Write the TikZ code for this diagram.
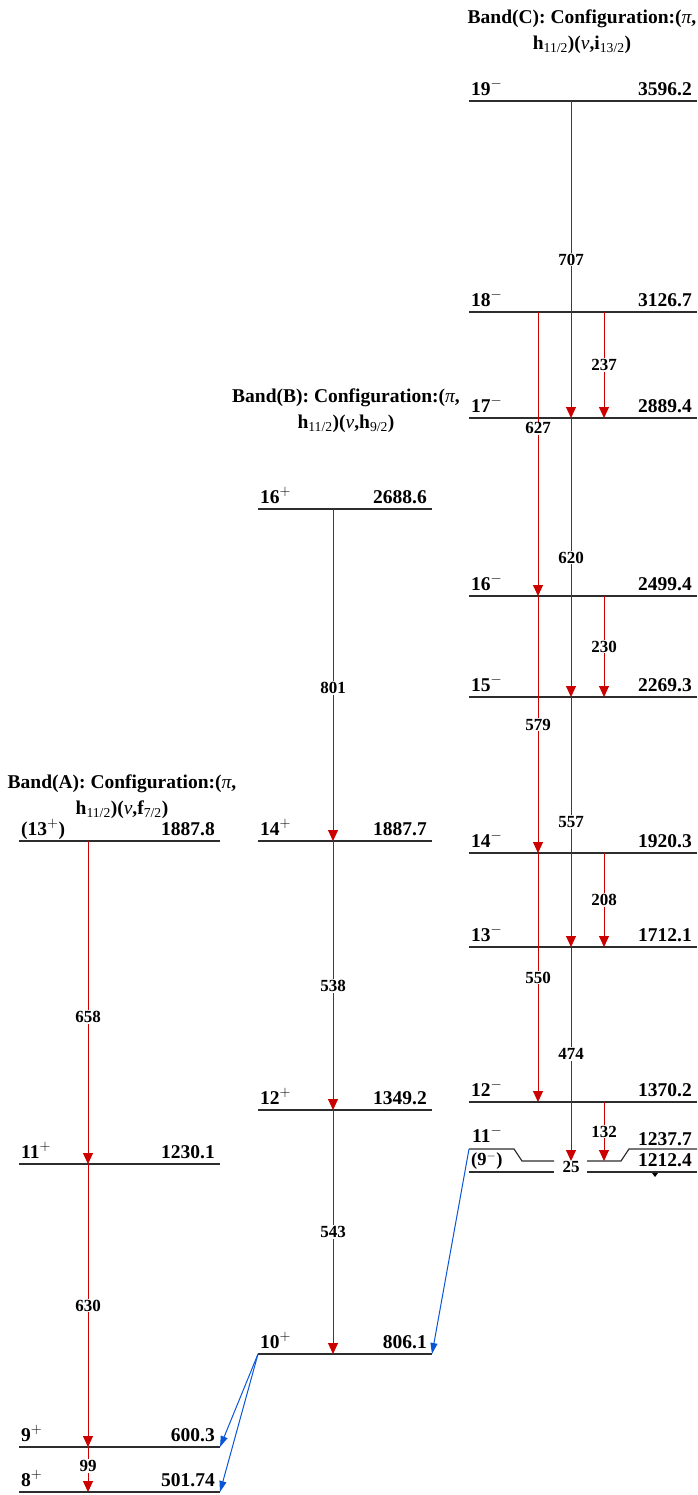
\documentclass[tikz,border=0pt]{standalone}
\usepackage{fontspec}
\setmainfont{Liberation Serif}
\usetikzlibrary{arrows.meta}
\definecolor{gamred}{RGB}{205,0,0}
\definecolor{linkblue}{RGB}{10,85,215}
\definecolor{lvlgray}{RGB}{45,45,45}

% level: name, x1, x2, y, spin, energy
\newcommand{\levelat}[6]{%
  \coordinate (#1l) at (#2,#4);
  \coordinate (#1r) at (#3,#4);
  \draw[levelline] (#1l) -- (#1r);
  \node[spinlab] (#1s) at ([xshift=2pt,yshift=5.5pt]#1l) {#5};
  \node[enlab] (#1e) at ([xshift=-5pt,yshift=5.5pt]#1r) {#6};}

\begin{document}
\begin{tikzpicture}[x=1pt,y=-1pt,
  levelline/.style={draw=lvlgray,line width=1.2pt},
  spinlab/.style={anchor=base west,inner sep=0pt,font=\fontsize{19.5}{22}\selectfont\bfseries},
  enlab/.style={anchor=base east,inner sep=0pt,font=\fontsize{19.5}{22}\selectfont\bfseries},
  gam/.style={draw=gamred,line width=1pt,-{Triangle[width=10pt,length=11pt]}},
  link/.style={draw=linkblue,line width=1pt,-{Triangle[width=7pt,length=11pt]}},
  glab/.style={fill=white,inner sep=1.2pt,font=\fontsize{17}{19}\selectfont\bfseries},
  bandtitle/.style={align=center,font=\fontsize{19.5}{26}\selectfont\bfseries}]
  \useasboundingbox (0,0) rectangle (698,1495);

  \node[bandtitle] (titC) at (582,32) {Band(C): Configuration:({\mdseries\itshape π},\\h\textsubscript{\mdseries 11/2})({\mdseries\itshape ν},i\textsubscript{\mdseries 13/2})};
  \node[bandtitle] (titB) at (346,411) {Band(B): Configuration:({\mdseries\itshape π},\\h\textsubscript{\mdseries 11/2})({\mdseries\itshape ν},h\textsubscript{\mdseries 9/2})};
  \node[bandtitle] (titA) at (122,797) {Band(A): Configuration:({\mdseries\itshape π},\\h\textsubscript{\mdseries 11/2})({\mdseries\itshape ν},f\textsubscript{\mdseries 7/2})};

  % band A
  \levelat{A13}{19}{220}{841}{(13$^{+}$)}{1887.8}
  \levelat{A11}{19}{220}{1164}{11$^{+}$}{1230.1}
  \levelat{A9}{19}{220}{1447}{9$^{+}$}{600.3}
  \levelat{A8}{19}{220}{1492}{8$^{+}$}{501.74}
  % band B
  \levelat{B16}{258}{432}{509}{16$^{+}$}{2688.6}
  \levelat{B14}{258}{432}{841}{14$^{+}$}{1887.7}
  \levelat{B12}{258}{432}{1110}{12$^{+}$}{1349.2}
  \levelat{B10}{258}{432}{1354}{10$^{+}$}{806.1}
  % band C
  \levelat{C19}{469}{697}{101}{19$^{-}$}{3596.2}
  \levelat{C18}{469}{697}{312}{18$^{-}$}{3126.7}
  \levelat{C17}{469}{697}{418}{17$^{-}$}{2889.4}
  \levelat{C16}{469}{697}{596}{16$^{-}$}{2499.4}
  \levelat{C15}{469}{697}{697}{15$^{-}$}{2269.3}
  \levelat{C14}{469}{697}{853}{14$^{-}$}{1920.3}
  \levelat{C13}{469}{697}{947}{13$^{-}$}{1712.1}
  \levelat{C12}{469}{697}{1102}{12$^{-}$}{1370.2}

  % 11- and (9-) with kinked line
  \coordinate (C11l) at (469,1149);
  \coordinate (C11m) at (522,1161);
  \coordinate (C11n) at (587,1161);
  \coordinate (C11r) at (697,1149);
  \draw[levelline] (C11l) -- (514,1149) -- (C11m) -- (554,1161);
  \draw[levelline] (C11n) -- (621,1161) -- (629,1149) -- (C11r);
  \coordinate (C9l) at (469,1172);
  \coordinate (C9r) at (697,1172);
  \draw[levelline] (C9l) -- (554,1172) (587,1172) -- (C9r);
  \node[spinlab] (C11s) at (472,1142.5) {11$^{-}$};
  \node[spinlab,font=\fontsize{18.5}{20}\selectfont\bfseries] (C9s) at (471,1165.5) {(9$^{-}$)};
  \node[enlab] (C11e) at (692,1145) {1237.7};
  \node[enlab] (C9e) at (692,1166) {1212.4};
  \node[glab,fill=none,inner sep=0pt] (g25) at (571,1167) {25};
  \fill[black] (652,1173) -- (658,1173) -- (655,1177) -- cycle;

  % columns
  \coordinate (colA) at (88,0);
  \coordinate (colB) at (333,0);
  \coordinate (colC1) at (538,0);
  \coordinate (colC2) at (571,0);
  \coordinate (colC3) at (604,0);

  \draw[gam] (colA |- A13l) -- node[glab,pos=.545] {658} (colA |- A11l);
  \draw[gam] (colA |- A11l) -- node[glab] {630} (colA |- A9l);
  \draw[gam] (colA |- A9l) -- node[glab,pos=.42] {99} (colA |- A8l);

  \draw[gam] (colB |- B16l) -- node[glab,pos=.54] {801} (colB |- B14l);
  \draw[gam] (colB |- B14l) -- node[glab,pos=.54] {538} (colB |- B12l);
  \draw[gam] (colB |- B12l) -- node[glab] {543} (colB |- B10l);

  \draw[gam] (colC2 |- C19l) -- node[glab] {707} (colC2 |- C17l);
  \draw[gam] (colC2 |- C17l) -- node[glab] {620} (colC2 |- C15l);
  \draw[gam] (colC2 |- C15l) -- node[glab] {557} (colC2 |- C13l);
  \draw[gam] (colC2 |- C13l) -- node[glab] {474} (colC2 |- C11m);

  \draw[gam] (colC1 |- C18l) -- node[glab,pos=.41] {627} (colC1 |- C16l);
  \draw[gam] (colC1 |- C16l) -- node[glab] {579} (colC1 |- C14l);
  \draw[gam] (colC1 |- C14l) -- node[glab] {550} (colC1 |- C12l);

  \draw[gam] (colC3 |- C18l) -- node[glab] {237} (colC3 |- C17l);
  \draw[gam] (colC3 |- C16l) -- node[glab] {230} (colC3 |- C15l);
  \draw[gam] (colC3 |- C14l) -- node[glab] {208} (colC3 |- C13l);
  \draw[gam] (colC3 |- C12l) -- node[glab] {132} (colC3 |- C11m);

  \draw[link] (C11l) -- (B10r);
  \draw[link] (B10l) -- (A9r);
  \draw[link] (B10l) -- (A8r);
\end{tikzpicture}
\end{document}
